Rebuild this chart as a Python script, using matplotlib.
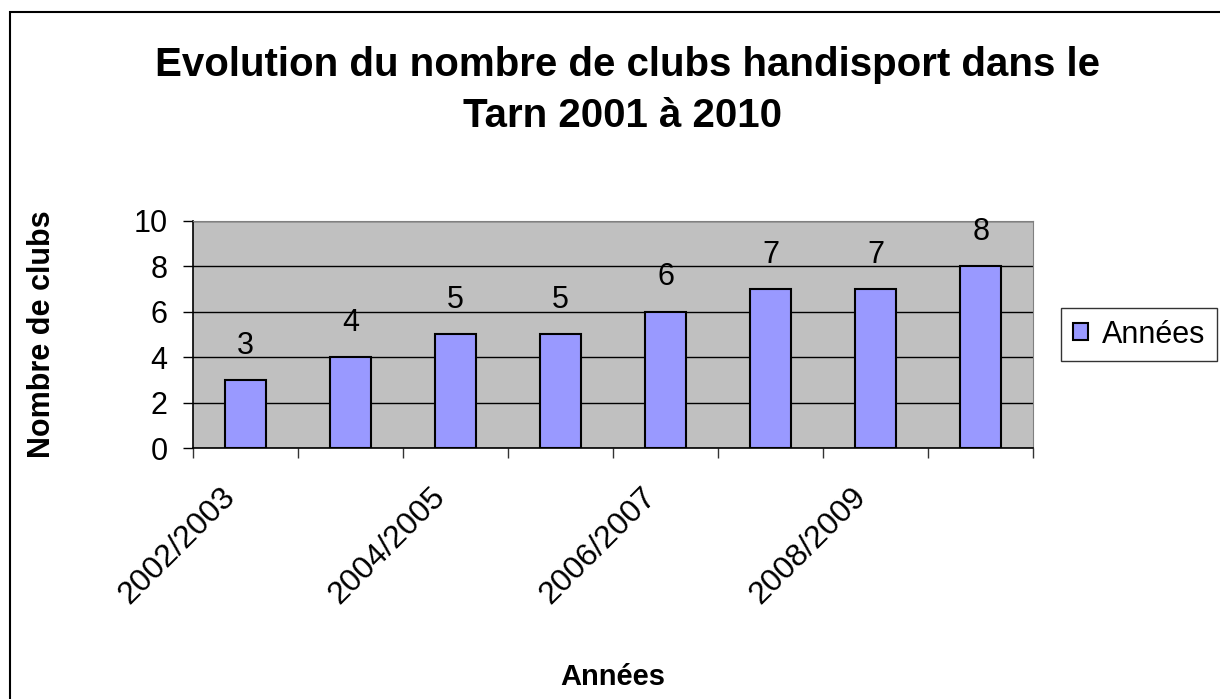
import matplotlib
matplotlib.use("Agg")
import matplotlib.pyplot as plt
from matplotlib.patches import Rectangle
from matplotlib.ticker import FixedLocator, NullLocator

plt.rcParams['font.family'] = ['Liberation Sans', 'DejaVu Sans']

# Data
saisons = ["2002/2003", "2003/2004", "2004/2005", "2005/2006",
           "2006/2007", "2007/2008", "2008/2009", "2009/2010"]
nb_clubs = [3, 4, 5, 5, 6, 7, 7, 8]
serie = "Années"

fig = plt.figure(figsize=(12.2, 6.99), dpi=100)
ax = fig.add_axes([0.158, 0.359, 0.689, 0.325])

x = list(range(len(saisons)))
ax.bar(x, nb_clubs, width=0.39, color="#9999FF", edgecolor="black",
       linewidth=1.5, label=serie, zorder=3)

# value labels above the bars
for xi, v in zip(x, nb_clubs):
    ax.annotate(str(v), (xi, v), xytext=(0, 19), textcoords="offset points",
                ha="center", va="baseline", fontsize=22)

ax.set_facecolor("#C0C0C0")
ax.set_xlim(-0.5, len(saisons) - 0.5)
ax.set_ylim(0, 10)
ax.set_yticks([0, 2, 4, 6, 8, 10])
ax.yaxis.grid(True, color="black", linewidth=1, zorder=1)
ax.set_axisbelow(True)

# tick marks between categories, labels every other category
ax.xaxis.set_major_locator(FixedLocator([i - 0.5 for i in range(len(saisons) + 1)]))
ax.xaxis.set_minor_locator(NullLocator())
ax.set_xticklabels([])
ax.tick_params(axis="x", length=7.2, width=1, color="#333333")
for xi in x[::2]:
    ax.annotate(saisons[xi], (xi, 0), xycoords=("data", "axes fraction"),
                xytext=(-18, -24), textcoords="offset points",
                rotation=45, rotation_mode="anchor", ha="right", va="top",
                fontsize=23)
ax.tick_params(axis="y", length=7.2, width=1, labelsize=22, pad=11)

for side in ["top", "right"]:
    ax.spines[side].set_color("#808080")
for side in ["left", "bottom"]:
    ax.spines[side].set_color("black")
    ax.spines[side].set_linewidth(1.2)

ax.set_ylabel("Nombre de clubs", fontsize=22, fontweight="bold")
ax.yaxis.set_label_coords(-0.162, 0.5)
fig.text(0.502, 0.031, "Années", ha="center", va="center",
         fontsize=21, fontweight="bold")

# two-line title
fig.text(0.514, 1 - 76 / 699, "Evolution du nombre de clubs handisport dans le",
         ha="center", va="baseline", fontsize=29, fontweight="bold")
fig.text(0.510, 1 - 127 / 699, "Tarn 2001 à 2010",
         ha="center", va="baseline", fontsize=29, fontweight="bold")

leg = fig.legend(loc="upper left", bbox_to_anchor=(1061 / 1220, 1 - 308 / 699),
                 fontsize=22, frameon=True, fancybox=False, edgecolor="black",
                 handlelength=0.5, handleheight=0.5, handletextpad=0.45,
                 borderpad=0.38, borderaxespad=0)
leg.get_frame().set_linewidth(1)

# outer chart border
fig.patches.append(Rectangle((10 / 1220, -0.01), 1.02, 1 - 12 / 699 + 0.01,
                             transform=fig.transFigure, fill=False,
                             edgecolor="black", linewidth=1.5))

fig.savefig("out.png", dpi=100)
